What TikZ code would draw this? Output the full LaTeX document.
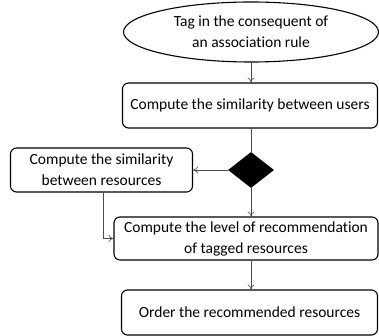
\documentclass[tikz,border=0pt]{standalone}
\usepackage{fontspec}
\setmainfont{Carlito}[Ligatures={NoCommon}]
\usetikzlibrary{shapes.geometric,arrows.meta}
\begin{document}
\begin{tikzpicture}[x=1pt,y=-1pt,
  box/.style={draw=black,line width=1.1pt,rounded corners=6pt,align=center,inner sep=0pt,font=\fontsize{15.5}{21}\selectfont},
  conn/.style={draw=black!70,line width=0.6pt,-{To[length=5pt,width=7pt]}},
  plain/.style={draw=black!70,line width=0.6pt}]
\useasboundingbox (0,0) rectangle (379,336);
\node[box,ellipse,rounded corners=0pt,minimum width=255pt,minimum height=60pt] (e) at (251,32) {Tag in the consequent of\\an association rule};
\node[box,minimum width=255pt,minimum height=45pt] (b1) at (250,105.5) {Compute the similarity between users};
\node[diamond,fill=black,inner sep=0pt,minimum width=46pt,minimum height=36pt] (d) at (251,170) {};
\node[box,minimum width=182pt,minimum height=44pt] (b2) at (101.5,170) {Compute the similarity\\between resources};
\node[box,minimum width=264pt,minimum height=43pt] (b3) at (246,238.5) {Compute the level of recommendation\\of tagged resources};
\node[box,minimum width=256pt,minimum height=45pt] (b4) at (249.5,312.5) {Order the recommended resources};
\draw[conn] (e.south -| d.north) -- (b1.north -| d.north);
\draw[plain] (b1.south -| d.north) -- (d.north);
\draw[conn] (d.west) -- (b2.east);
\draw[conn] (d.south) -- (d.south |- b3.north);
\draw[conn] ([xshift=1.5pt]b2.south) |- (b3.west);
\draw[conn] (b3.south -| d.south) -- (d.south |- b4.north);
\end{tikzpicture}
\end{document}
